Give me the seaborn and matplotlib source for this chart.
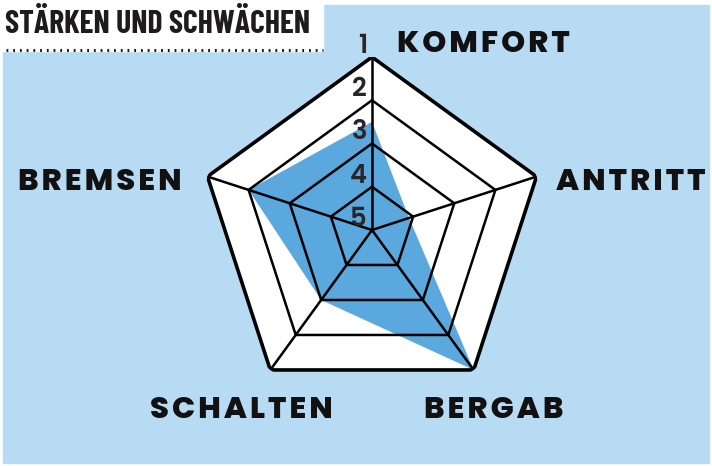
import numpy as np
import pandas as pd
import matplotlib
matplotlib.use("Agg")
import matplotlib.pyplot as plt
from matplotlib.patches import Rectangle
from matplotlib.lines import Line2D
import seaborn as sns

# Daten (Skala 1 = beste Note aussen, 5 = Mitte)
kategorien = ["KOMFORT", "ANTRITT", "BERGAB", "SCHALTEN", "BREMSEN"]
noten = [2.5, 4.1, 1.0, 3.0, 2.0]
stufen = [1, 2, 3, 4, 5]
titel = "STÄRKEN UND SCHWÄCHEN"

hintergrund = "#b8dbf4"
fuellung = "#5aa8dd"
dunkel = "#1d1b1c"

sns.set_theme(style="white")
plt.rcParams["font.family"] = ["DejaVu Sans"]
schmal = ["Barlow Condensed", "DejaVu Sans"]
breit = ["Poppins", "DejaVu Sans"]

W, H = 712, 466
fig = plt.figure(figsize=(W / 100, H / 100), dpi=100)
fig.patch.set_facecolor("white")

# Hintergrund und Titelkasten
fig.add_artist(Rectangle((3 / W, 1 - 463 / H), 706 / W, 458 / H,
                         transform=fig.transFigure, color=hintergrund, zorder=0))
fig.add_artist(Rectangle((0, 1 - 51 / H), 323 / W, 51 / H,
                         transform=fig.transFigure, color="white", zorder=1))
fig.add_artist(Line2D([6 / W, 323 / W], [1 - 50 / H, 1 - 50 / H],
                      transform=fig.transFigure, color=dunkel, lw=2.2,
                      linestyle=(0, (0.6, 1.6)), zorder=2))
fig.text(5 / W, 1 - 33 / H, titel, fontsize=22.8, fontweight="bold",
         family=schmal, color=dunkel, ha="left", va="baseline", zorder=3)

# Netzdiagramm
cx, cy, R = 372, 230, 173
ax = fig.add_axes([(cx - R) / W, (H - cy - R) / H, 2 * R / W, 2 * R / H],
                  projection="polar")
ax.set_theta_offset(np.pi / 2)
ax.set_theta_direction(-1)
ax.patch.set_alpha(0)
ax.set_ylim(0, 4)
ax.axis("off")

n = len(kategorien)
winkel = np.linspace(0, 2 * np.pi, n, endpoint=False)
winkel_zu = np.append(winkel, winkel[0])

# weisse Flaeche
ax.fill(winkel, [5 - 1] * n, color="white", zorder=1, lw=0)

# Werte
radien = [5 - v for v in noten]
ax.fill(winkel, radien, color=fuellung, zorder=2, lw=0)

# Ringe
for s in stufen[:-1]:
    r = 5 - s
    sns.lineplot(x=winkel_zu, y=[r] * (n + 1), sort=False, estimator=None,
                 color="black", lw=2.6 if s == 1 else 1.8, ax=ax, zorder=3)
# Speichen
for w in winkel:
    ax.plot([w, w], [0, 4], color="black", lw=1.8, zorder=3)

# Stufenzahlen
for s in stufen:
    ax.annotate(str(s), xy=(0, 5 - s), xytext=(-3.6, 3),
                textcoords="offset points", ha="right", va="baseline",
                fontsize=18.5, fontweight="semibold", family=breit,
                color="#2a2627", zorder=4)

# Kategorienamen (Grundlinie in Pixeln)
pos = {
    "KOMFORT": (397, 52, "left"),
    "ANTRITT": (556, 190, "left"),
    "BERGAB": (424, 418, "left"),
    "SCHALTEN": (150, 418, "left"),
    "BREMSEN": (182, 190, "right"),
}
for k in kategorien:
    x, y, ha = pos[k]
    fig.text(x / W, 1 - y / H, "\u200a".join(k), fontsize=22, fontweight=800,
             family=breit, color="#121011", ha=ha, va="baseline", zorder=4)

fig.savefig("out.png", dpi=100)
